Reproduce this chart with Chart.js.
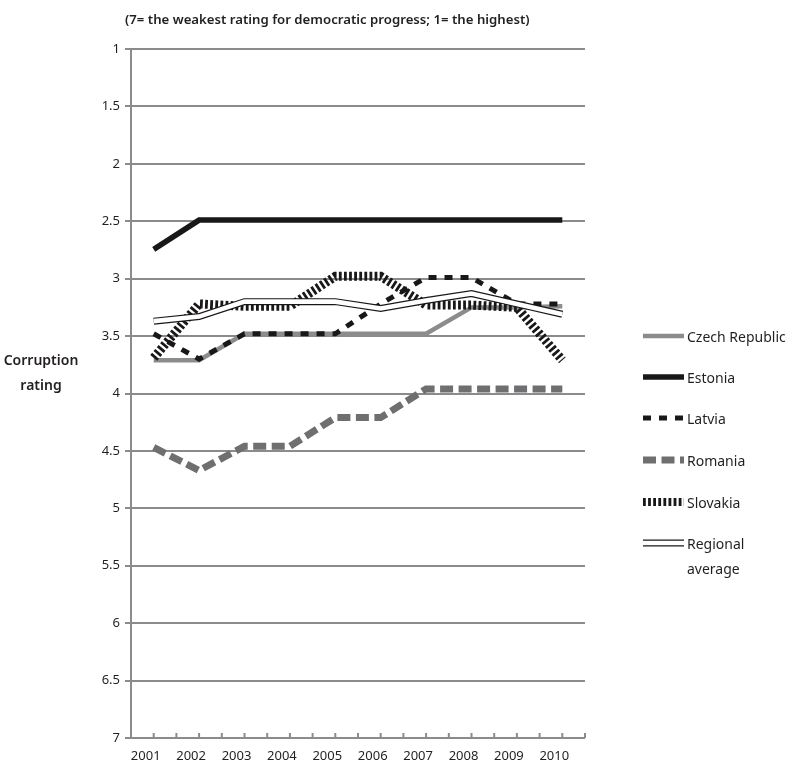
<!DOCTYPE html>
<html>
<head>
<meta charset="utf-8">
<script src="https://cdn.jsdelivr.net/npm/chart.js@4"></script>
<style>
  html, body { margin: 0; padding: 0; background: #fff; }
  #wrap { width: 788px; height: 768px; }
</style>
</head>
<body>
<div id="wrap"><canvas id="corruptionChart" width="788" height="768"></canvas></div>
<script>
const years = ["2001", "2002", "2003", "2004", "2005", "2006", "2007", "2008", "2009", "2010"];
const czech = [3.71, 3.71, 3.48, 3.48, 3.48, 3.48, 3.48, 3.25, 3.25, 3.24];
const estonia = [2.745, 2.49, 2.49, 2.49, 2.49, 2.49, 2.49, 2.49, 2.49, 2.49];
const latvia = [3.48, 3.7, 3.48, 3.48, 3.48, 3.22, 2.99, 2.99, 3.22, 3.22];
const romania = [4.47, 4.67, 4.46, 4.46, 4.21, 4.21, 3.96, 3.96, 3.96, 3.96];
const slovakia = [3.69, 3.22, 3.24, 3.24, 2.98, 2.98, 3.23, 3.23, 3.25, 3.71];
const regional = [3.37, 3.33, 3.2, 3.2, 3.2, 3.26, 3.19, 3.13, 3.22, 3.31];
const yTicks = [1, 1.5, 2, 2.5, 3, 3.5, 4, 4.5, 5, 5.5, 6, 6.5, 7];

const titleText = "(7= the weakest rating for democratic progress; 1= the highest)";
const fontFam = "'Noto Sans', 'Open Sans', sans-serif";
const gridGray = "#8b8b8d";

// legend rows: label lines, dataset indexes drawn as the sample
const legendRows = [
    { lines: ["Czech Republic"], sets: [0] },
    { lines: ["Estonia"], sets: [1] },
    { lines: ["Latvia"], sets: [2] },
    { lines: ["Romania"], sets: [3] },
    { lines: ["Slovakia"], sets: [4] },
    { lines: ["Regional", "average"], sets: [5, 6] }
];

const textPlugin = {
    id: 'textPlugin',
    afterDraw(chart) {
        const ctx = chart.ctx;
        const x = chart.scales.x;
        const area = chart.chartArea;
        ctx.save();

        // small upward tick marks on the x axis (centres and boundaries)
        ctx.strokeStyle = gridGray;
        ctx.lineWidth = 2;
        const half = (x.getPixelForValue(1) - x.getPixelForValue(0)) / 2;
        for (let i = 0; i < years.length; i++) {
            const c = x.getPixelForValue(i);
            [c, c + half].forEach(px => {
                ctx.beginPath();
                ctx.moveTo(px, area.bottom - 5);
                ctx.lineTo(px, area.bottom);
                ctx.stroke();
            });
        }

        ctx.fillStyle = "#231f20";
        ctx.textBaseline = "middle";

        // title
        ctx.font = "600 13.2px " + fontFam;
        ctx.textAlign = "left";
        ctx.fillText(titleText, 125, 20);

        // y axis title, horizontal
        ctx.textAlign = "center";
        ctx.font = "600 14px " + fontFam;
        ctx.fillText("Corruption", 41, 361);
        ctx.fillText("rating", 41, 386);

        // legend
        const sx0 = 643, sx1 = 684, tx = 687;
        const rowY = [336, 377, 418, 460, 502, 543];
        ctx.textAlign = "left";
        ctx.font = "14px " + fontFam;
        legendRows.forEach((row, r) => {
            const y = rowY[r];
            row.sets.forEach(di => {
                const ds = chart.data.datasets[di];
                ctx.beginPath();
                ctx.setLineDash(ds.borderDash || []);
                ctx.lineDashOffset = 0;
                ctx.strokeStyle = ds.borderColor;
                ctx.lineWidth = Math.min(ds.borderWidth, 8);
                ctx.moveTo(sx0, y);
                ctx.lineTo(sx1, y);
                ctx.stroke();
            });
            ctx.setLineDash([]);
            row.lines.forEach((t, k) => {
                ctx.fillText(t, tx, y + 2 + k * 25);
            });
        });
        ctx.restore();
    }
};

const lineBase = {
    fill: false,
    tension: 0,
    pointRadius: 0,
    pointHoverRadius: 0,
    borderCapStyle: 'butt',
    borderJoinStyle: 'miter'
};

new Chart(document.getElementById("corruptionChart"), {
    type: 'line',
    data: {
        labels: years,
        datasets: [
            { ...lineBase, label: "Czech Republic", data: czech, borderColor: "#8c8c8e", borderWidth: 4.5, order: 4 },
            { ...lineBase, label: "Estonia", data: estonia, borderColor: "#1a1718", borderWidth: 5.5, order: 5 },
            { ...lineBase, label: "Latvia", data: latvia, borderColor: "#1a1718", borderWidth: 5, borderDash: [8, 8], order: 2 },
            { ...lineBase, label: "Romania", data: romania, borderColor: "#6f6f71", borderWidth: 7, borderDash: [13, 5.5], order: 6 },
            { ...lineBase, label: "Slovakia", data: slovakia, borderColor: "#1a1718", borderWidth: 9, borderDash: [2.8, 2.3], order: 3 },
            { ...lineBase, label: "Regional average", data: regional, borderColor: "#1a1718", borderWidth: 7, order: 1 },
            { ...lineBase, label: "Regional average (fill)", data: regional, borderColor: "#ffffff", borderWidth: 4.6, order: 0 }
        ]
    },
    options: {
        responsive: false,
        animation: false,
        events: [],
        layout: {
            padding: { left: 0, right: 203, top: 49, bottom: 0 }
        },
        plugins: {
            legend: { display: false },
            title: { display: false },
            tooltip: { enabled: false }
        },
        scales: {
            x: {
                offset: true,
                grid: { display: false, drawTicks: false },
                border: { display: false },
                afterFit(scale) { scale.height = 30; },
                ticks: {
                    color: "#231f20",
                    padding: 10,
                    labelOffset: -8,
                    maxRotation: 0,
                    autoSkip: false,
                    font: { family: fontFam, size: 13 }
                }
            },
            y: {
                reverse: true,
                min: 1,
                max: 7,
                afterFit(scale) { scale.width = 131; },
                afterBuildTicks(scale) {
                    scale.ticks = yTicks.map(v => ({ value: v }));
                },
                grid: {
                    color: gridGray,
                    lineWidth: 2,
                    tickLength: 6,
                    drawTicks: true
                },
                border: { display: true, color: gridGray, width: 2 },
                ticks: {
                    color: "#231f20",
                    padding: 5,
                    font: { family: fontFam, size: 13 },
                    callback: v => String(v)
                }
            }
        }
    },
    plugins: [textPlugin]
});
</script>
</body>
</html>
